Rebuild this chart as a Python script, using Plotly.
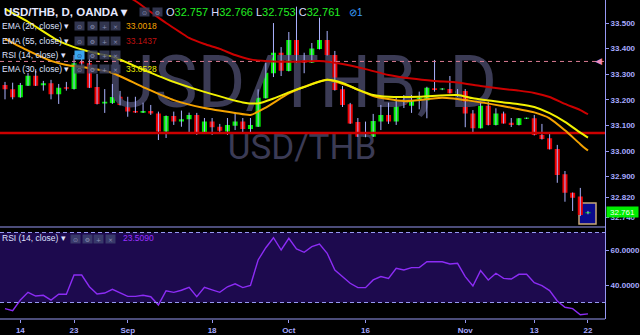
import plotly.graph_objects as go

# ---------------- data ----------------
opens = [33.258, 33.241, 33.210, 33.255, 33.294, 33.257, 33.265, 33.222, 33.249, 33.242,
         33.348, 33.343, 33.250, 33.186, 33.188, 33.212, 33.184, 33.156, 33.150, 33.156,
         33.147, 33.076, 33.137, 33.115, 33.124, 33.141, 33.072, 33.115, 33.095, 33.076,
         33.099, 33.115, 33.086, 33.095, 33.206, 33.304, 33.384, 33.313, 33.434, 33.366,
         33.345, 33.399, 33.434, 33.375, 33.241, 33.183, 33.113, 33.056, 33.056, 33.115,
         33.141, 33.115, 33.193, 33.177, 33.203, 33.197, 33.245, 33.240, 33.242, 33.226,
         33.235, 33.147, 33.089, 33.177, 33.102, 33.147, 33.111, 33.102, 33.126, 33.128,
         33.063, 33.050, 33.008, 32.909, 32.837, 32.822, 32.757]
highs = [33.270, 33.267, 33.266, 33.305, 33.320, 33.274, 33.278, 33.262, 33.270, 33.375,
         33.375, 33.375, 33.301, 33.242, 33.262, 33.235, 33.212, 33.212, 33.189, 33.180,
         33.154, 33.139, 33.154, 33.158, 33.150, 33.149, 33.129, 33.129, 33.106, 33.129,
         33.150, 33.129, 33.129, 33.241, 33.344, 33.500, 33.406, 33.465, 33.564, 33.384,
         33.422, 33.521, 33.469, 33.391, 33.254, 33.188, 33.129, 33.115, 33.145, 33.180,
         33.189, 33.212, 33.219, 33.219, 33.232, 33.251, 33.356, 33.246, 33.293, 33.242,
         33.242, 33.160, 33.193, 33.193, 33.167, 33.154, 33.129, 33.129, 33.131, 33.141,
         33.106, 33.069, 33.024, 32.922, 32.838, 32.856, 32.766]
lows = [33.202, 33.202, 33.208, 33.254, 33.254, 33.236, 33.202, 33.184, 33.236, 33.240,
        33.324, 33.246, 33.182, 33.149, 33.184, 33.178, 33.134, 33.149, 33.149, 33.141,
        33.043, 33.051, 33.102, 33.095, 33.072, 33.063, 33.067, 33.063, 33.067, 33.063,
        33.082, 33.074, 33.067, 33.094, 33.205, 33.289, 33.293, 33.311, 33.344, 33.304,
        33.344, 33.397, 33.373, 33.236, 33.172, 33.106, 33.055, 33.054, 33.055, 33.082,
        33.106, 33.102, 33.168, 33.149, 33.163, 33.128, 33.232, 33.238, 33.225, 33.212,
        33.093, 33.072, 33.088, 33.100, 33.100, 33.107, 33.094, 33.100, 33.125, 33.061,
        33.045, 33.006, 32.876, 32.802, 32.766, 32.746, 32.753]
closes = [33.241, 33.210, 33.258, 33.294, 33.255, 33.265, 33.222, 33.247, 33.243, 33.343,
          33.342, 33.247, 33.184, 33.193, 33.211, 33.180, 33.154, 33.151, 33.156, 33.147,
          33.076, 33.137, 33.115, 33.124, 33.141, 33.072, 33.115, 33.093, 33.079, 33.102,
          33.115, 33.086, 33.102, 33.208, 33.306, 33.384, 33.314, 33.434, 33.365, 33.345,
          33.401, 33.434, 33.375, 33.238, 33.180, 33.108, 33.056, 33.060, 33.117, 33.141,
          33.115, 33.193, 33.180, 33.199, 33.207, 33.247, 33.238, 33.244, 33.226, 33.235,
          33.147, 33.089, 33.177, 33.102, 33.147, 33.108, 33.102, 33.128, 33.130, 33.063,
          33.047, 33.007, 32.906, 32.837, 32.818, 32.750, 32.761]
rsi = [26.5, 25.3, 31.4, 35.8, 33.7, 34.1, 31.4, 34.7, 34.7, 45.7,
       45.7, 39.0, 34.9, 35.4, 37.5, 35.6, 33.5, 33.5, 34.1, 33.3,
       28.6, 36.7, 35.8, 37.0, 38.7, 33.3, 38.7, 37.2, 35.8, 39.0,
       40.7, 38.5, 39.8, 54.3, 61.3, 67.0, 60.0, 66.7, 60.6, 58.7,
       61.9, 63.4, 58.1, 48.6, 44.8, 41.0, 38.5, 38.5, 42.9, 44.8,
       43.8, 49.5, 48.6, 49.9, 49.9, 53.3, 53.3, 53.3, 52.0, 52.4,
       44.8, 39.4, 48.2, 42.9, 46.7, 43.8, 43.4, 46.1, 46.1, 41.3,
       39.6, 36.8, 30.9, 27.3, 26.5, 23.0, 23.509]

ema20_bars = [0, 3, 6, 8, 11, 14, 18, 22, 26, 30, 32, 34, 37, 40, 42, 45, 48, 52, 57,
              61, 65, 67, 69, 71, 73, 75, 76]
ema20_vals = [33.438, 33.392, 33.352, 33.336, 33.324, 33.305, 33.250, 33.199, 33.168,
              33.149, 33.141, 33.170, 33.225, 33.262, 33.278, 33.252, 33.215, 33.195,
              33.208, 33.195, 33.175, 33.163, 33.151, 33.128, 33.081, 33.027, 33.0018]
ema30_bars = [0, 3, 7, 9, 12, 14, 18, 22, 26, 31, 33, 35, 37, 39, 42, 44, 46, 48, 50,
              54, 59, 61, 65, 67, 69, 71, 73, 75, 76]
ema30_vals = [33.555, 33.505, 33.430, 33.406, 33.381, 33.369, 33.318, 33.270, 33.231,
              33.190, 33.186, 33.205, 33.229, 33.250, 33.278, 33.266, 33.240, 33.219,
              33.212, 33.212, 33.219, 33.206, 33.190, 33.183, 33.172, 33.148, 33.114,
              33.072, 33.0528]
ema55_bars = [0, 5, 10, 14, 17, 19, 21, 23, 24, 26, 28, 30, 32, 35, 38, 41, 44, 47, 50,
              53, 56, 59, 62, 65, 67, 69, 71, 73, 75, 76]
ema55_vals = [33.870, 33.790, 33.710, 33.640, 33.586, 33.543, 33.500, 33.461, 33.442,
              33.418, 33.399, 33.375, 33.358, 33.350, 33.349, 33.352, 33.340, 33.320,
              33.297, 33.283, 33.274, 33.268, 33.254, 33.242, 33.236, 33.227, 33.211,
              33.184, 33.160, 33.1437]

tick_bars = [2, 9, 16, 27, 37, 47, 60, 69, 76]
tick_text = ["14", "23", "Sep", "18", "Oct", "16", "Nov", "13", "22"]
price_ticks = [33.5, 33.4, 33.3, 33.2, 33.1, 33.0, 32.9, 32.82, 32.74]
rsi_ticks = [60, 40]
rsi_band = [30, 70]
support_level = 33.07
alert_level = 33.35
bars_count = 1

# ---------------- layout geometry ----------------
W, H = 640, 335
PLOT_R = 605
MAIN_B = 226
RSI_T, RSI_B = 228, 319
XR = [-0.652, 78.22]
YR = [32.7072, 33.59]
Y2R = [20.57, 72.57]

def xd(px):
    return XR[0] + px / PLOT_R * (XR[1] - XR[0])

def yd(py):
    return YR[1] - py / MAIN_B * (YR[1] - YR[0])

def pxx(p):
    return p / W

def pxy(p):
    return 1 - p / H

LAV = "#9698f2"
TXT = "#dfe1ff"
GREEN = "#00ee00"
RED = "#ee0000"
C20 = "#f5a300"
C30 = "#f2f200"
C55 = "#cc0000"
CRSI = "#8c2cf5"

n = len(opens)
bars = list(range(n))

fig = go.Figure()

# watermark (behind everything)
fig.add_trace(go.Scatter(
    x=[xd(302), xd(302)], y=[yd(89), yd(150)], mode="text",
    text=["USD/THB, D", "USD/THB"],
    textfont=dict(family="Roboto", size=[73, 35], color="#3b3b55"),
    hoverinfo="skip", xaxis="x", yaxis="y"))

# wicks
wx, wy = [], []
for i in bars:
    wx += [i, i, None]
    wy += [lows[i], highs[i], None]
fig.add_trace(go.Scatter(x=wx, y=wy, mode="lines",
                         line=dict(color="#aab2ff", width=1),
                         hoverinfo="skip", xaxis="x", yaxis="y"))

# candle bodies
fig.add_trace(go.Candlestick(
    x=bars, open=opens, high=highs, low=lows, close=closes,
    increasing=dict(fillcolor=GREEN, line=dict(color=GREEN, width=0)),
    decreasing=dict(fillcolor=RED, line=dict(color=RED, width=0)),
    whiskerwidth=0, xaxis="x", yaxis="y", hoverinfo="skip"))

# horizontal drawings
fig.add_trace(go.Scatter(x=[XR[0], XR[1]], y=[support_level] * 2, mode="lines",
                         line=dict(color="#cc0000", width=2.5), hoverinfo="skip"))
fig.add_trace(go.Scatter(x=[XR[0], XR[1]], y=[alert_level] * 2, mode="lines",
                         line=dict(color="#d97c92", width=1, dash="4px,4px"),
                         hoverinfo="skip"))

# EMAs
for bx, vals, col in [(ema20_bars, ema20_vals, C20),
                      (ema55_bars, ema55_vals, C55),
                      (ema30_bars, ema30_vals, C30)]:
    fig.add_trace(go.Scatter(x=bx, y=vals, mode="lines",
                             line=dict(color=col, width=2, shape="spline", smoothing=0.6),
                             hoverinfo="skip", xaxis="x", yaxis="y"))

# RSI
fig.add_trace(go.Scatter(x=bars, y=rsi, mode="lines",
                         line=dict(color=CRSI, width=1.4),
                         hoverinfo="skip", xaxis="x2", yaxis="y2"))

shapes = [
    dict(type="rect", xref="paper", yref="y2", x0=0, x1=pxx(PLOT_R),
         y0=rsi_band[0], y1=rsi_band[1], fillcolor="#1d0a4e", line_width=0, layer="below"),
    dict(type="line", xref="paper", yref="y2", x0=0, x1=pxx(PLOT_R),
         y0=rsi_band[1], y1=rsi_band[1], line=dict(color=LAV, width=1, dash="4px,3px")),
    dict(type="line", xref="paper", yref="y2", x0=0, x1=pxx(PLOT_R),
         y0=rsi_band[0], y1=rsi_band[0], line=dict(color=LAV, width=1, dash="4px,3px")),
    dict(type="line", xref="paper", yref="paper", x0=0, x1=pxx(PLOT_R),
         y0=pxy(227), y1=pxy(227), line=dict(color=LAV, width=1)),
    dict(type="line", xref="paper", yref="paper", x0=0, x1=pxx(PLOT_R),
         y0=pxy(319), y1=pxy(319), line=dict(color=LAV, width=1)),
    dict(type="line", xref="paper", yref="paper", x0=pxx(605.5), x1=pxx(605.5),
         y0=pxy(0), y1=pxy(319), line=dict(color=LAV, width=1)),
    dict(type="rect", xref="paper", yref="paper", x0=pxx(579), x1=pxx(596),
         y0=pxy(224), y1=pxy(203), fillcolor="#0a0a8c",
         line=dict(color="#c8a878", width=1.5), layer="below"),
]

ann = []

def text(px, py, s, color=TXT, size=9, weight="normal", family="Liberation Sans", anchor="left"):
    ann.append(dict(xref="paper", yref="paper", x=pxx(px), y=pxy(py), text=s,
                    showarrow=False, xanchor=anchor, yanchor="middle", borderpad=0,
                    font=dict(family=family, size=size, color=color, weight=weight)))

def icon(px, py, glyph, bg="rgba(58,62,92,0.85)", fg="#8a90b4"):
    ann.append(dict(xref="paper", yref="paper", x=pxx(px), y=pxy(py), text=glyph,
                    showarrow=False, xanchor="center", yanchor="middle",
                    width=9, height=8, borderpad=0, bgcolor=bg,
                    font=dict(family="DejaVu Sans", size=6, color=fg)))

# header row
text(3, 12, "USD/THB, D, OANDA ▾", color="#e6e8ff", size=11.5, weight="bold")
icon(144, 12, "⊙")
icon(157, 12, "⚙")
g = "#22ee22"
ohlc = (f"O<span style='color:{g}'>{opens[-1]:.3f}</span> "
        f"H<span style='color:{g}'>{highs[-1]:.3f}</span> "
        f"L<span style='color:{g}'>{lows[-1]:.3f}</span> "
        f"C<span style='color:{g}'>{closes[-1]:.3f}</span>")
text(165, 12, ohlc, color="#d8dbff", size=11)
text(348, 12, f"⊘{bars_count}", color="#3aa0ff", size=10)

rows = [(26.5, "EMA (20, close) ▾", f"{ema20_vals[-1]:.4f}", C20),
        (41, "EMA (55, close) ▾", f"{ema55_vals[-1]:.4f}", "#c01010"),
        (55, "RSI (14, close) ▾", None, None),
        (69.5, "EMA (30, close) ▾", f"{ema30_vals[-1]:.4f}", C30)]
for y, lab, val, col in rows:
    text(1, y, lab, size=8.5)
    for k, (cx, gl) in enumerate(zip([79.5, 92, 104, 115.5], ["⊙", "⚙", "+", "×"])):
        if lab.startswith("RSI") and k == 0:
            icon(cx, y, "⊙", bg="#3aa6f0", fg="#12306a")
        else:
            icon(cx, y, gl)
    if val:
        text(125, y, val, color=col, size=8.5)

# RSI pane legend
text(1, 238, "RSI (14, close) ▾", size=8.5)
for cx, gl in zip([75, 87, 98.5, 110], ["⊙", "⚙", "+", "×"]):
    icon(cx, 238.5, gl, bg="rgba(60,62,110,0.9)")
text(122, 238, f"{rsi[-1]:.4f}", color="#9b30ff", size=8.5)

# last price label and alert marker on the price scale
ann.append(dict(xref="paper", yref="y", x=pxx(606), y=closes[-1], text=f"{closes[-1]:.3f}",
                showarrow=False, xanchor="left", yanchor="middle", width=31, height=10,
                borderpad=0, bgcolor="#00ee00",
                font=dict(family="Liberation Sans", size=8, color="#f4fff4")))
ann.append(dict(xref="paper", yref="y", x=pxx(604), y=alert_level, text="◀",
                showarrow=False, xanchor="right", yanchor="middle",
                font=dict(family="DejaVu Sans", size=9, color="#f08cbc")))

axis_font = dict(family="Liberation Sans", size=8, color="#a7aaff", weight="bold")

fig.update_layout(
    width=W, height=H, margin=dict(l=0, r=0, t=0, b=0),
    paper_bgcolor="#000000", plot_bgcolor="#000000",
    showlegend=False, hovermode=False, boxgap=0.2, boxgroupgap=0.18,
    xaxis=dict(domain=[0, pxx(PLOT_R)], range=XR, anchor="y", showgrid=False,
               zeroline=False, showticklabels=False, rangeslider=dict(visible=False),
               fixedrange=True),
    xaxis2=dict(domain=[0, pxx(PLOT_R)], range=XR, anchor="y2", matches="x",
                showgrid=False, zeroline=False, tickmode="array", tickvals=tick_bars,
                ticktext=tick_text, ticks="outside", ticklen=3, tickcolor=LAV,
                tickfont=axis_font, automargin=False),
    yaxis=dict(domain=[pxy(MAIN_B), 1], range=YR, side="right", showgrid=False,
               zeroline=False, tickmode="array", tickvals=price_ticks,
               ticktext=[f"{v:.3f}" for v in price_ticks], ticks="outside", ticklen=3,
               tickcolor=LAV, tickfont=axis_font, automargin=False),
    yaxis2=dict(domain=[pxy(RSI_B), pxy(RSI_T)], range=Y2R, side="right", showgrid=False,
                zeroline=False, tickmode="array", tickvals=rsi_ticks,
                ticktext=[f"{v:.4f}" for v in rsi_ticks], ticks="outside", ticklen=3,
                tickcolor=LAV, tickfont=axis_font, automargin=False, anchor="x2"),
    shapes=shapes, annotations=ann,
)

fig.write_html("out.html")
